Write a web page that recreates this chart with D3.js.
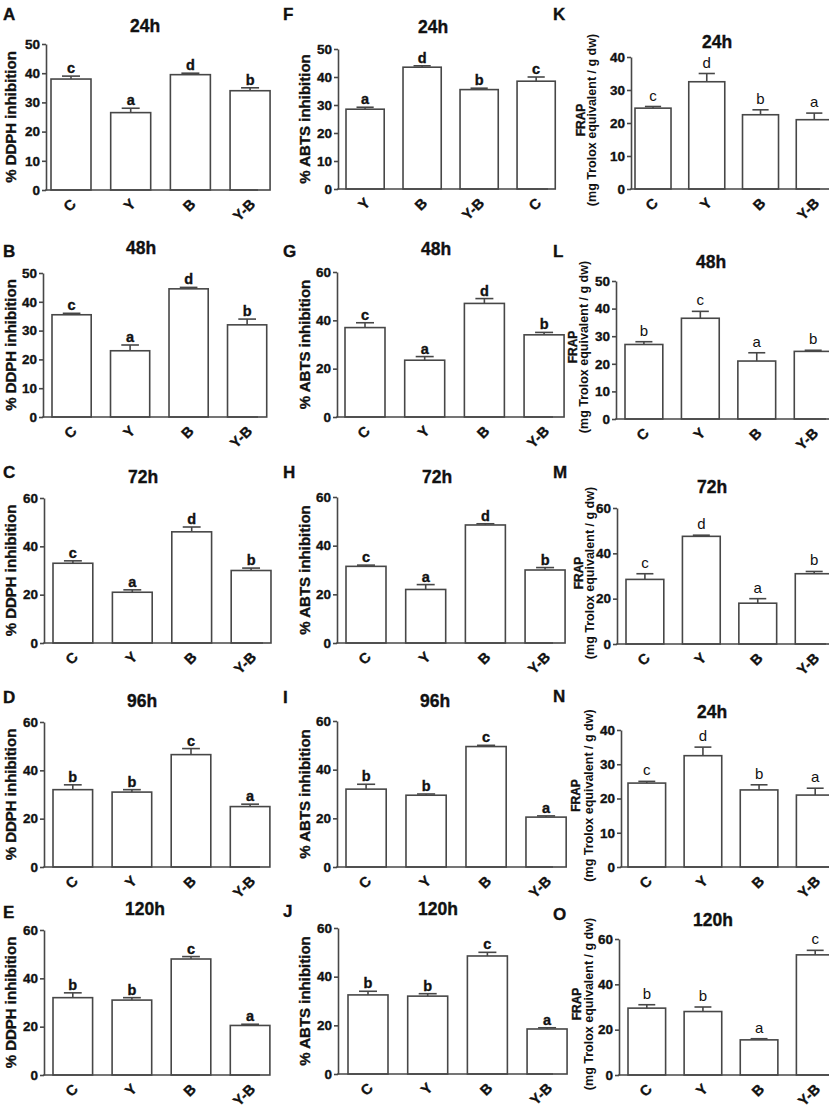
<!DOCTYPE html>
<html>
<head>
<meta charset="utf-8">
<script src="https://cdn.jsdelivr.net/npm/d3@7"></script>
<style>
  body { margin: 0; background: #fff; }
  svg { display: block; font-family: Arial, "Liberation Sans", sans-serif; }
  .heavy { stroke: #111; stroke-width: 0.35; paint-order: stroke; }
</style>
</head>
<body>
<svg id="fig" width="829" height="1109"></svg>
<script>
// ---- data ----
const panelIds = ['A','B','C','D','E','F','G','H','I','J','K','L','M','N','O'];
const panelTitles = ['24h','48h','72h','96h','120h','24h','48h','72h','96h','120h','24h','48h','72h','24h','120h'];
const groupOrder = ['C','Y','B','Y-B'];
const groupOrderF = ['Y','B','Y-B','C'];

const dpphMeans  = [[38,26.5,39.5,34],[35.5,23,44.5,32],[33,21,46,30],[32,31,46.5,25],[32,31,48,20.5]];
const dpphErrors = [[1,1.5,0.5,1],[0.5,2,0.5,2],[1,1,2,1],[2,1,2.5,1],[2,1,1,0.5]];
const dpphLetters = [['c','a','d','b'],['c','a','d','b'],['c','a','d','b'],['b','b','c','a'],['b','b','c','a']];
const dpphYMax = [50,50,60,60,60];
const dpphStep = [10,10,20,20,20];

const abtsMeans  = [[28.5,43.5,35.5,38.5],[37,23.5,47,34],[31.5,22,48.5,30],[32,29.5,49.5,20.5],[32.5,32,48.5,18.5]];
const abtsErrors = [[0.7,0.5,0.5,1.5],[2,1.5,2,1],[0.5,2,0.5,1],[2,0.5,0.5,0.5],[1.5,1,1.5,0.5]];
const abtsLetters = [['a','d','b','c'],['c','a','d','b'],['c','a','d','b'],['b','b','c','a'],['b','b','c','a']];
const abtsYMax = [50,60,60,60,60];
const abtsStep = [10,20,20,20,20];

const frapMeans  = [[24.5,32.5,22.5,21],[27,36.5,21,24.5],[28.5,47.5,18,31],[24.5,32.5,22.5,21],[29.5,28,15.5,53]];
const frapErrors = [[0.5,2.5,1.5,2],[1,2.5,3,0.4],[2.5,0.5,2,1],[0.5,2.5,1.5,2],[1.5,2,0.5,2]];
const frapLetters = [['c','d','b','a'],['b','c','a','b'],['c','d','a','b'],['c','d','b','a'],['b','b','a','c']];
const frapYMax = [40,50,60,40,60];
const frapStep = [10,10,20,10,20];

const yLabels = ['% DDPH inhibition', '% ABTS inhibition', ['FRAP', '(mg Trolox equivalent / g dw)']];

// ---- layout (pixel frames of each panel) ----
// [axisX, barStart, barEnd, axisEnd, yTop, yBottom, titleX, titleY, letterY]
const frames = [
  [46, 51, 252, 258,  44, 190, 145,  32,  20],
  [43, 52, 249, 258, 273, 417, 141, 254, 257],
  [44, 53, 253, 263, 498, 643, 143, 483, 478],
  [44, 53, 252, 260, 722, 867, 142, 707, 703],
  [44, 53, 252, 260, 930,1075, 145, 915, 918],
  [338,346, 538, 548,  49, 189, 433,  33,  20],
  [337,345, 546, 553, 272, 417, 436, 255, 257],
  [337,346, 547, 553, 497, 643, 437, 483, 478],
  [337,346, 548, 553, 721, 867, 435, 707, 703],
  [338,348, 549, 553, 928,1074, 438, 915, 917],
  [631,635, 816, 820,  57, 189, 717,  48,  20],
  [616,625, 815, 826, 281, 419, 711, 268, 257],
  [617,626, 816, 826, 508, 644, 712, 493, 478],
  [621,628, 817, 829, 730, 867, 712, 718, 702],
  [619,628, 817, 829, 939,1075, 713, 926, 920]
];
const colLetterX = [3, 283, 553];
const colYLabelX = [15.5, 310];
const frapLabelX = [[585,596],[577,588],[583,594],[580,593],[581,593]];

const ink = '#474747';
const txt = '#111';
const lw = 1.6;
const svg = d3.select('#fig');

const assays = [
  { means: dpphMeans, errors: dpphErrors, letters: dpphLetters, yMax: dpphYMax, step: dpphStep },
  { means: abtsMeans, errors: abtsErrors, letters: abtsLetters, yMax: abtsYMax, step: abtsStep },
  { means: frapMeans, errors: frapErrors, letters: frapLetters, yMax: frapYMax, step: frapStep }
];

assays.forEach((assay, col) => {
  assay.means.forEach((means, row) => {
    const idx = col * 5 + row;
    const [ax, b0, b1, ae, yTop, yBot, tx, ty, ly] = frames[idx];
    const cats = idx === 5 ? groupOrderF : groupOrder;
    const data = cats.map((c, i) => ({
      cat: c, mean: means[i], err: assay.errors[row][i], letter: assay.letters[row][i]
    }));

    const step = (b1 - b0) / (3 + 0.67);
    const x = d3.scaleBand().domain(cats).range([b0, b1 + step * 0.33]).paddingInner(0.33).paddingOuter(0);
    const y = d3.scaleLinear().domain([0, assay.yMax[row]]).range([yBot, yTop]);
    const g = svg.append('g');

    // bars
    g.selectAll('rect.bar').data(data).join('rect')
      .attr('class', 'bar')
      .attr('x', d => x(d.cat))
      .attr('y', d => y(d.mean))
      .attr('width', x.bandwidth())
      .attr('height', d => y(0) - y(d.mean))
      .attr('fill', '#fff')
      .attr('stroke', ink)
      .attr('stroke-width', lw);

    // error bars (upper only)
    const cap = x.bandwidth() * 0.45;
    data.forEach(d => {
      const cx = x(d.cat) + x.bandwidth() / 2;
      g.append('line').attr('x1', cx).attr('x2', cx)
        .attr('y1', y(d.mean)).attr('y2', y(d.mean + d.err))
        .attr('stroke', ink).attr('stroke-width', lw);
      g.append('line').attr('x1', cx - cap / 2).attr('x2', cx + cap / 2)
        .attr('y1', y(d.mean + d.err)).attr('y2', y(d.mean + d.err))
        .attr('stroke', ink).attr('stroke-width', lw);
    });

    // significance letters
    g.selectAll('text.sig').data(data).join('text')
      .attr('class', col === 2 ? 'sig' : 'sig heavy')
      .attr('x', d => x(d.cat) + x.bandwidth() / 2)
      .attr('y', d => y(d.mean + d.err) - (col === 2 ? 6 : 3))
      .attr('text-anchor', 'middle')
      .attr('font-size', col === 2 ? 15 : 14.5)
      .attr('font-weight', col === 2 ? 'normal' : 'bold')
      .attr('fill', txt)
      .text(d => d.letter);

    // y axis
    const yAxis = d3.axisLeft(y)
      .tickValues(d3.range(0, assay.yMax[row] + 1, assay.step[row]))
      .tickSize(4).tickSizeOuter(0).tickPadding(2);
    const ya = g.append('g').attr('transform', `translate(${ax},0)`).call(yAxis);
    ya.select('.domain').attr('stroke', ink).attr('stroke-width', lw);
    ya.selectAll('.tick line').attr('stroke', ink).attr('stroke-width', lw);
    ya.selectAll('.tick text')
      .attr('class', 'heavy')
      .attr('font-size', 13.5).attr('font-weight', 'bold').attr('fill', txt)
      .attr('font-family', 'Arial, "Liberation Sans", sans-serif');

    // x axis line
    g.append('line').attr('x1', ax - lw / 2).attr('x2', ae).attr('y1', yBot).attr('y2', yBot)
      .attr('stroke', ink).attr('stroke-width', lw);

    // rotated category labels
    g.selectAll('text.cat').data(cats).join('text')
      .attr('class', 'cat heavy')
      .attr('transform', c => `translate(${x(c) + x.bandwidth() / 2 + 6},${yBot + 15}) rotate(-45)`)
      .attr('text-anchor', 'end')
      .attr('font-size', 14.5)
      .attr('font-weight', 'bold')
      .attr('fill', txt)
      .text(c => c);

    // title and panel letter
    g.append('text').attr('class', 'heavy').attr('x', tx).attr('y', ty)
      .attr('text-anchor', 'middle').attr('font-size', 17.5).attr('font-weight', 'bold')
      .attr('fill', txt).text(panelTitles[idx]);
    g.append('text').attr('class', 'heavy').attr('x', colLetterX[col]).attr('y', ly)
      .attr('font-size', 17).attr('font-weight', 'bold')
      .attr('fill', txt).text(panelIds[idx]);

    // y label
    const yc = (yTop + yBot) / 2;
    if (col < 2) {
      g.append('text').attr('class', 'heavy')
        .attr('transform', `translate(${colYLabelX[col]},${yc}) rotate(-90)`)
        .attr('text-anchor', 'middle').attr('font-size', 15).attr('font-weight', 'bold')
        .attr('fill', txt).text(yLabels[col]);
    } else {
      const [fx, sx] = frapLabelX[row];
      g.append('text').attr('class', 'heavy')
        .attr('transform', `translate(${fx},${yc - 3}) rotate(-90)`)
        .attr('text-anchor', 'middle').attr('font-size', 12).attr('font-weight', 'bold')
        .attr('fill', txt).text(yLabels[2][0]);
      g.append('text')
        .attr('transform', `translate(${sx},${yc - 3}) rotate(-90)`)
        .attr('text-anchor', 'middle').attr('font-size', 12.5).attr('font-weight', 'bold')
        .attr('fill', txt).text(yLabels[2][1]);
    }
  });
});
</script>
</body>
</html>
